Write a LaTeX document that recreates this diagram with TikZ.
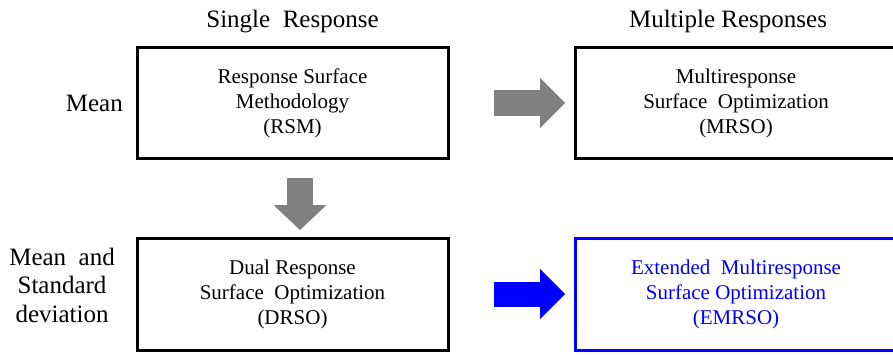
\documentclass[tikz,border=0pt]{standalone}
\usepackage{fontspec}
\setmainfont{Liberation Serif}
\usetikzlibrary{positioning,arrows.meta}

\begin{document}
\begin{tikzpicture}[x=1pt,y=1pt,
    method/.style={draw,line width=3pt,outer sep=0pt,minimum height=110pt,
        align=center,font=\fontsize{21}{25}\selectfont},
    label/.style={inner sep=0pt,align=center,font=\fontsize{25}{28.5}\selectfont},
    fatarrow/.style={line width=26pt,shorten <=46pt,shorten >=10pt,
        -{Triangle[length=25pt,width=50pt,line width=0pt]}}]
    \useasboundingbox (0,0) rectangle (893,354);
    % boxes
    \node[method,minimum width=311pt] (rsm) at (292.5,251)
        {Response Surface\\Methodology\\(RSM)};
    \node[method,minimum width=322pt,right=127pt of rsm] (mrso)
        {Multiresponse\\Surface~ Optimization\\(MRSO)};
    \node[method,minimum width=311pt,minimum height=112pt,below=80pt of rsm] (drso)
        {Dual Response\\Surface~ Optimization\\(DRSO)};
    \node[method,minimum width=322pt,minimum height=112pt,right=127pt of drso,
        draw=blue,text=blue] (emrso)
        {Extended~ Multiresponse\\Surface Optimization\\(EMRSO)};
    % headings
    \node[label,anchor=base] (single) at ([yshift=20pt]rsm.north) {Single~ Response};
    \node[label,anchor=base] (multiple) at ([xshift=-8pt,yshift=20pt]mrso.north) {Multiple Responses};
    \node[label,left=14pt of rsm] (mean) {Mean};
    \node[label,left=22pt of drso,yshift=9pt] (meansd) {Mean~ and\\Standard\\deviation};
    % arrows
    \draw[fatarrow,gray] (rsm) -- (mrso);
    \draw[fatarrow,gray,shorten <=20pt,shorten >=8pt,line width=26pt,
        -{Triangle[length=25pt,width=53pt,line width=0pt]}]
        ([xshift=7.5pt]rsm.south) -- ([xshift=7.5pt]drso.north);
    \draw[fatarrow,blue,line width=25pt] (drso) -- (emrso);
\end{tikzpicture}
\end{document}
